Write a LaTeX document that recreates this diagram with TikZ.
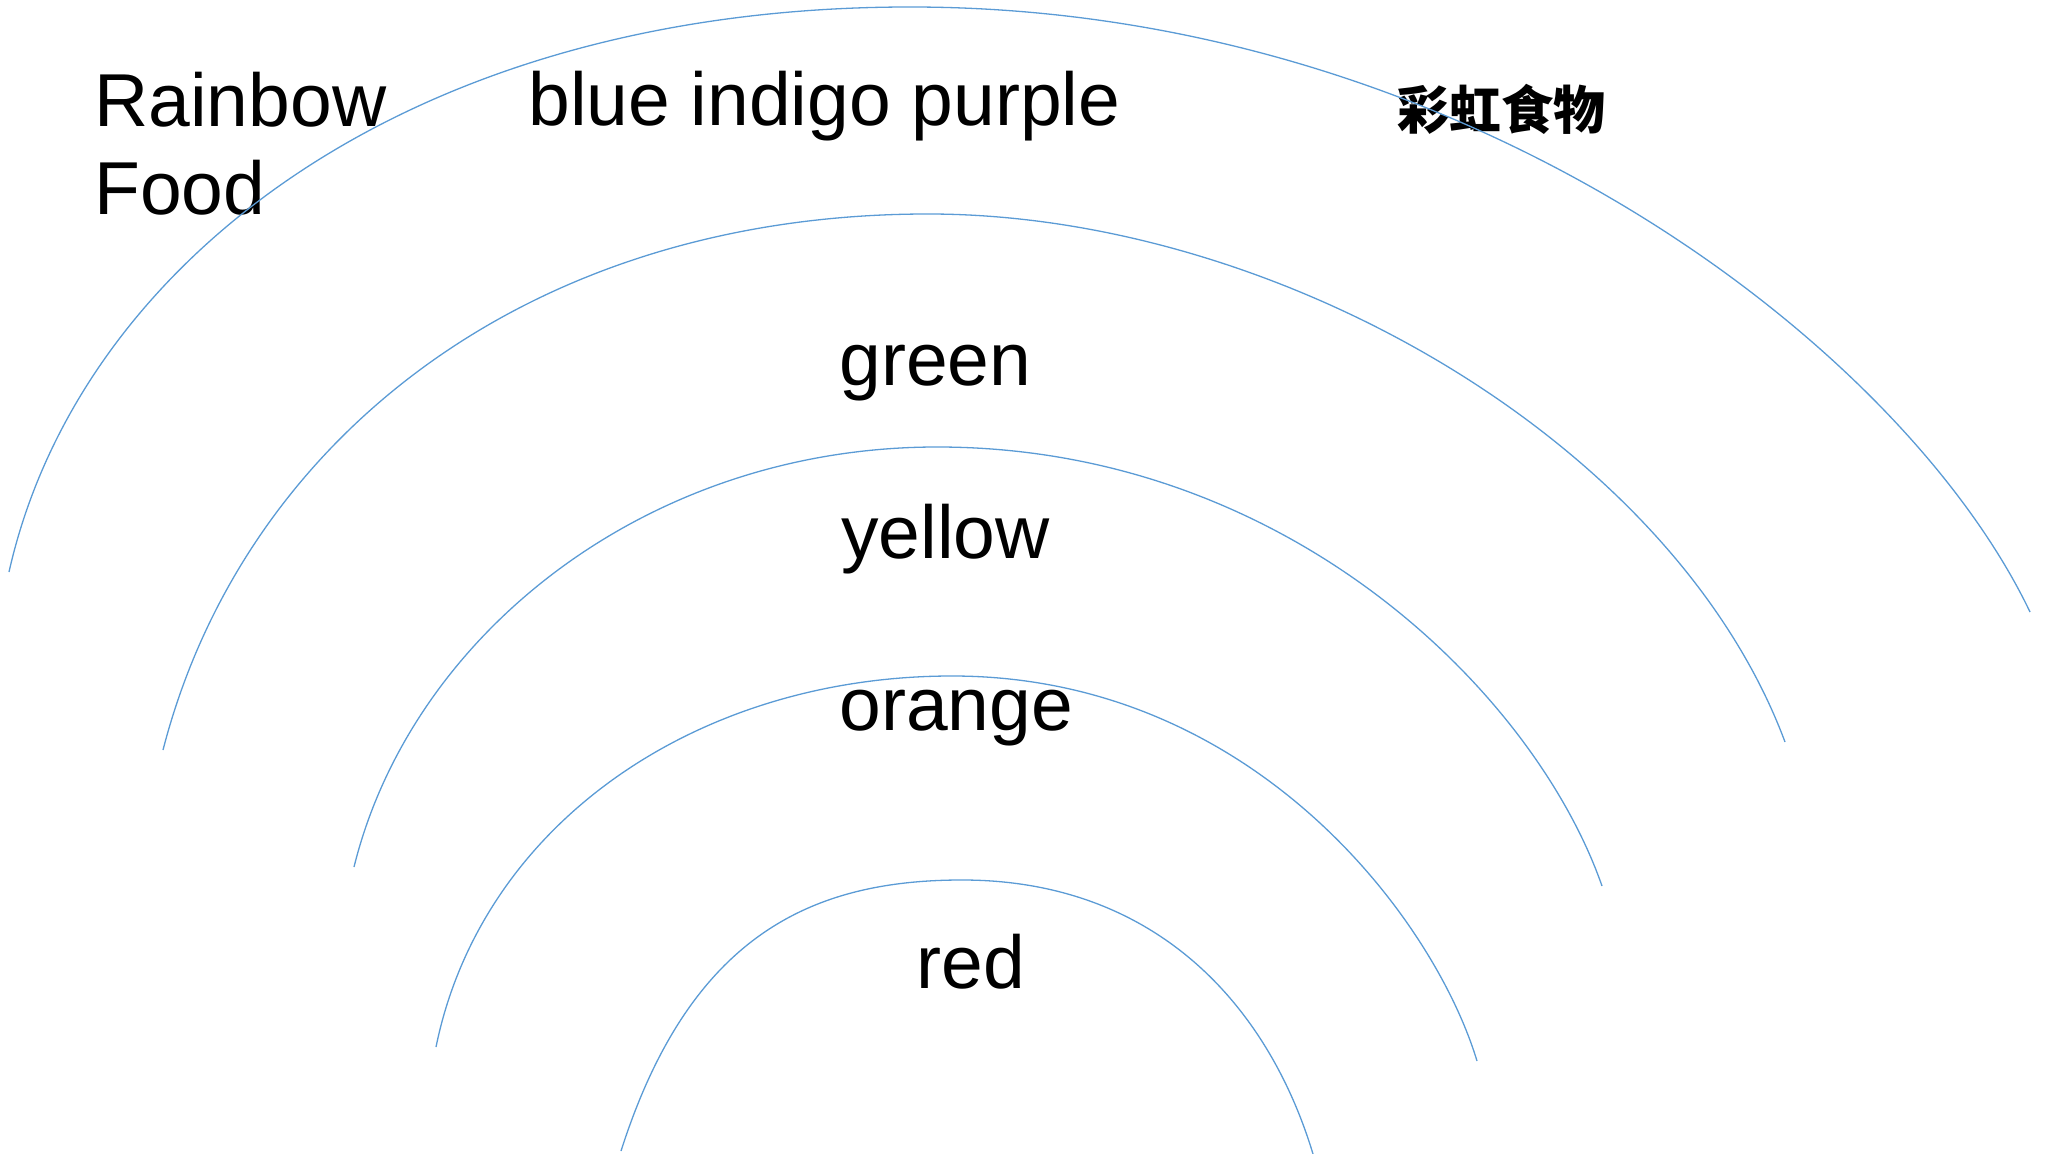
\documentclass[tikz,border=0pt]{standalone}
\usepackage{fontspec}
\setmainfont{Liberation Sans}
\newfontfamily\cjkfont{Noto Sans CJK SC}
\definecolor{arcblue}{HTML}{5B9BD5}
\begin{document}
\begin{tikzpicture}[x=0.5pt,y=-0.5pt,
    lbl/.style={anchor=base west,inner sep=0pt,font=\fontsize{37.5}{44}\selectfont},
    cjk/.style={anchor=west,inner sep=0pt,font=\cjkfont\bfseries\fontsize{26}{30}\selectfont}]
  \useasboundingbox (0,0) rectangle (2049,1154);
  \draw
    (94,127) node[lbl] (rainbow){Rainbow}
    (94,215) node[lbl] (food){Food}
    (528,126) node[lbl] (blue){blue indigo purple}
    (1397,109) node[cjk] (title){彩虹食物}
    (839,386) node[lbl] (green){green}
    (841,558) node[lbl] (yellow){yellow}
    (839,730) node[lbl] (orange){orange}
    (916,988) node[lbl] (red){red};
  \begin{scope}[arcblue,line width=0.65pt]
    \draw (9,572) .. controls (78,265) and (405,7) .. (910,7)
      .. controls (1465,7) and (1903,346.5) .. (2030,612);
    \draw (163,750) .. controls (243,440) and (528,214) .. (928,214)
      .. controls (1278,214) and (1673,442) .. (1785,742);
    \draw (354,867) .. controls (411.6,634.2) and (647,447) .. (937,447)
      .. controls (1287,447) and (1534.3,692.5) .. (1602,886);
    \draw (436,1047) .. controls (481.6,823.6) and (697,676) .. (952,676)
      .. controls (1252,676) and (1433.5,917.4) .. (1477,1061);
    \draw (621,1151) .. controls (690,935) and (812,880) .. (962,880)
      .. controls (1152,880) and (1266.6,1000.9) .. (1313,1154);
  \end{scope}
\end{tikzpicture}
\end{document}
